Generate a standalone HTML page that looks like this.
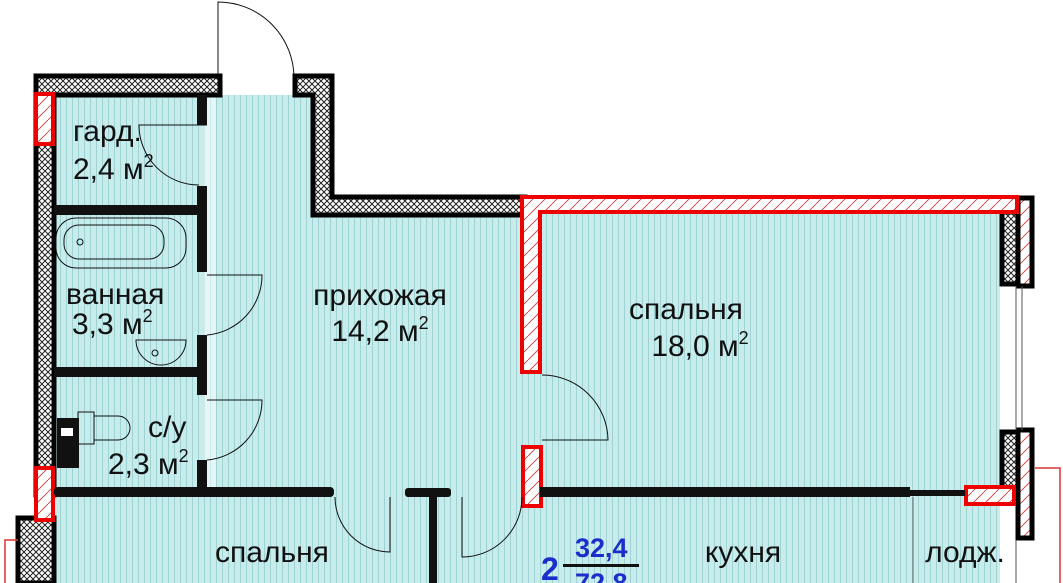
<!DOCTYPE html>
<html><head><meta charset="utf-8"><style>
html,body{margin:0;padding:0;background:#fff;}
svg{display:block;}
text{font-family:"Liberation Sans",sans-serif;fill:#111;}
</style></head><body>
<svg width="1063" height="583" viewBox="0 0 1063 583" xmlns="http://www.w3.org/2000/svg">
<defs>
<pattern id="st" width="6" height="10" patternUnits="userSpaceOnUse">
<rect width="6" height="10" fill="#c8ecec"/><rect x="0" width="1" height="10" fill="#9fd3d3"/>
</pattern>
<pattern id="xh" width="6" height="6" patternUnits="userSpaceOnUse">
<rect width="6" height="6" fill="#fff"/><path d="M0 0L6 6M6 0L0 6" stroke="#222" stroke-width="1"/>
</pattern>
<pattern id="dh" width="12" height="12" patternUnits="userSpaceOnUse">
<rect width="12" height="12" fill="#fff"/><path d="M0 12L12 0" stroke="#c33" stroke-width="0.8"/>
</pattern>
</defs>
<path d="M54 95H313V213H1000V583H54Z" fill="url(#st)"/>
<rect x="204" y="95" width="12" height="395" fill="#fff" opacity="0.5"/>
<path d="M36 76H220V95H54V495H36Z" fill="url(#xh)" stroke="#000" stroke-width="5"/>
<path d="M295 76H332V197H525V215H313V95H295Z" fill="url(#xh)" stroke="#000" stroke-width="5"/>
<rect x="18" y="518" width="36" height="65" fill="url(#xh)" stroke="#000" stroke-width="5"/>
<rect x="1002" y="212" width="16" height="72" fill="url(#xh)" stroke="#000" stroke-width="5"/>
<rect x="1018" y="198" width="14" height="88" fill="url(#dh)" stroke="#000" stroke-width="5"/>
<rect x="1002" y="432" width="16" height="56" fill="url(#xh)" stroke="#000" stroke-width="5"/>
<rect x="1018" y="430" width="14" height="108" fill="url(#dh)" stroke="#000" stroke-width="5"/>
<line x1="1016" y1="286" x2="1016" y2="430" stroke="#555"/>
<line x1="1022" y1="286" x2="1022" y2="430" stroke="#555"/>
<line x1="1016" y1="540" x2="1016" y2="583" stroke="#555"/>
<path d="M1035 468H1060V583" fill="none" stroke="#d33" stroke-width="1.5"/>
<path d="M18 540H5V583" fill="none" stroke="#d33" stroke-width="1.5"/>
<path d="M522 197H1017V212H540V372H522Z" fill="url(#dh)" stroke="#e00" stroke-width="4"/>
<rect x="523" y="447" width="18" height="59" fill="url(#dh)" stroke="#e00" stroke-width="4"/>
<rect x="36" y="94" width="17" height="50" fill="url(#dh)" stroke="#e00" stroke-width="4"/>
<rect x="36" y="468" width="17" height="52" fill="url(#dh)" stroke="#e00" stroke-width="4"/>
<rect x="966" y="487" width="48" height="17" fill="url(#dh)" stroke="#e00" stroke-width="4"/>
<g fill="#111">
<rect x="54" y="487" width="280" height="10" rx="4"/>
<rect x="405" y="488" width="46" height="9" rx="3"/>
<rect x="429" y="488" width="8" height="95"/>
<rect x="540" y="487" width="370" height="10"/>
<rect x="905" y="490" width="60" height="6"/>
<rect x="54" y="205" width="152" height="10"/>
<rect x="54" y="367" width="152" height="10"/>
<rect x="197" y="95" width="10" height="30"/>
<rect x="197" y="186" width="10" height="86"/>
<rect x="197" y="335" width="10" height="60"/>
<rect x="197" y="460" width="10" height="30"/>
<rect x="57" y="418" width="22" height="50"/>
</g>
<rect x="61" y="428" width="12" height="8" fill="#fff"/>
<line x1="913" y1="497" x2="913" y2="583" stroke="#666"/>
<g fill="none" stroke="#111" stroke-width="1">
<path d="M218 95V2A76 76 0 0 1 294 78"/>
<path d="M207 125H139A60 60 0 0 0 199 185"/>
<path d="M207 275H262A60 60 0 0 1 207 335"/>
<path d="M207 400H262A60 60 0 0 1 207 460"/>
<path d="M335 497A55 55 0 0 0 390 552V497"/>
<path d="M522 497A60 60 0 0 1 462 557V497"/>
<path d="M542 375A66 66 0 0 1 608 440H542"/>
<rect x="56" y="218" width="130" height="50" rx="20"/>
<rect x="64" y="225" width="100" height="34" rx="15"/>
<circle cx="80" cy="242" r="3"/>
<path d="M136 340H186A25 25 0 0 1 136 340Z"/>
<circle cx="155" cy="353" r="3"/>
<rect x="78" y="412" width="16" height="32"/>
<path d="M94 416H118A12 12 0 0 1 118 440H94"/>
</g>
<g font-size="30">
<text x="73" y="141">гард.</text>
<text x="73" y="179">2,4 м<tspan font-size="18" dy="-12">2</tspan></text>
<text x="66" y="304">ванная</text>
<text x="72" y="334">3,3 м<tspan font-size="18" dy="-12">2</tspan></text>
<text x="148" y="437">с/у</text>
<text x="108" y="474">2,3 м<tspan font-size="18" dy="-12">2</tspan></text>
<text x="380" y="305" text-anchor="middle">прихожая</text>
<text x="380" y="341" text-anchor="middle">14,2 м<tspan font-size="18" dy="-12">2</tspan></text>
<text x="686" y="319" text-anchor="middle">спальня</text>
<text x="700" y="356" text-anchor="middle">18,0 м<tspan font-size="18" dy="-12">2</tspan></text>
<text x="272" y="562" text-anchor="middle">спальня</text>
<text x="743" y="562" text-anchor="middle">кухня</text>
<text x="965" y="562" text-anchor="middle">лодж.</text>
</g>
<text x="541" y="580" font-size="32" font-weight="bold" style="fill:#1a2ecc">2</text>
<text x="575" y="557" font-size="27" font-weight="bold" style="fill:#1a2ecc">32,4</text>
<rect x="563" y="564" width="76" height="3" fill="#111"/>
<text x="575" y="592" font-size="27" font-weight="bold" style="fill:#1a2ecc">72,8</text>
</svg>
</body></html>
